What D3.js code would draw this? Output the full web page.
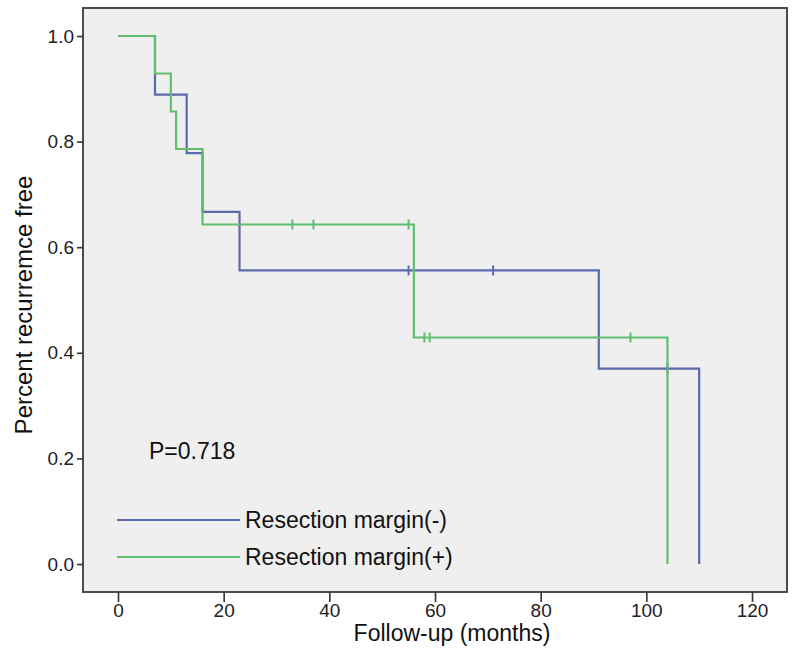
<!DOCTYPE html>
<html>
<head>
<meta charset="utf-8">
<script src="https://cdn.jsdelivr.net/npm/d3@7"></script>
<style>
  html, body { margin: 0; padding: 0; background: #ffffff; }
  svg { display: block; font-family: "Liberation Sans", Arial, sans-serif; }
</style>
</head>
<body>
<svg id="chart" width="800" height="659"></svg>
<script>
// ---- Data ----
const groupNames = ["Resection margin(-)", "Resection margin(+)"];
const negTimes   = [0, 7, 13, 16, 23, 91, 110];
const negSurv    = [1.0, 0.889, 0.778, 0.667, 0.556, 0.370, 0.0];
const negCensor  = [55, 71, 104];
const posTimes   = [0, 7, 10, 11, 16, 56, 104];
const posSurv    = [1.0, 0.929, 0.857, 0.786, 0.643, 0.429, 0.0];
const posCensor  = [33, 37, 55, 58, 59, 97];
const xTicks     = [0, 20, 40, 60, 80, 100, 120];
const yTicks     = [0.0, 0.2, 0.4, 0.6, 0.8, 1.0];
const pText      = "P=0.718";
const xTitle     = "Follow-up (months)";
const yTitle     = "Percent recurremce free";

const colors = ["#5a6aaa", "#5fbf6e"];

const svg = d3.select("#chart");
const box = { left: 83, top: 8, right: 787, bottom: 592 };

const x = d3.scaleLinear().domain([0, 120]).range([118, 752]);
const y = d3.scaleLinear().domain([0, 1]).range([564, 36]);

// plot background
svg.append("rect")
  .attr("x", box.left).attr("y", box.top)
  .attr("width", box.right - box.left).attr("height", box.bottom - box.top)
  .attr("fill", "#efefef").attr("stroke", "none");

// axes
const yAxis = d3.axisLeft(y).tickValues(yTicks).tickFormat(d3.format(".1f"))
  .tickSize(6).tickPadding(3);
const gy = svg.append("g").attr("transform", `translate(${box.left},0)`).call(yAxis);
gy.select(".domain").remove();
gy.selectAll("line").attr("stroke", "#333").attr("stroke-width", 1.6);
gy.selectAll("text").attr("font-size", 19).attr("fill", "#222");

const xAxis = d3.axisBottom(x).tickValues(xTicks).tickFormat(d3.format("d"))
  .tickSize(10).tickPadding(2);
const gx = svg.append("g").attr("transform", `translate(0,${box.bottom})`).call(xAxis);
gx.select(".domain").remove();
gx.selectAll("line").attr("stroke", "#333").attr("stroke-width", 1.6);
gx.selectAll("text").attr("font-size", 19).attr("fill", "#222");

// border
svg.append("rect")
  .attr("x", box.left).attr("y", box.top)
  .attr("width", box.right - box.left).attr("height", box.bottom - box.top)
  .attr("fill", "none").attr("stroke", "#3a3a3a").attr("stroke-width", 1.8);

// curves
const groups = [
  { times: negTimes, surv: negSurv, censor: negCensor, color: colors[0] },
  { times: posTimes, surv: posSurv, censor: posCensor, color: colors[1] }
];
const line = d3.line().x(d => x(d[0])).y(d => y(d[1])).curve(d3.curveStepAfter);

function survAt(g, t) {
  let s = g.surv[0];
  for (let i = 0; i < g.times.length; i++) if (g.times[i] <= t) s = g.surv[i];
  return s;
}

groups.forEach(g => {
  const pts = g.times.map((t, i) => [t, g.surv[i]]);
  svg.append("path").datum(pts)
    .attr("d", line).attr("fill", "none")
    .attr("stroke", g.color).attr("stroke-width", 2.2);
  svg.selectAll(null).data(g.censor).enter().append("line")
    .attr("x1", d => x(d)).attr("x2", d => x(d))
    .attr("y1", d => y(survAt(g, d)) - 5).attr("y2", d => y(survAt(g, d)) + 5)
    .attr("stroke", g.color).attr("stroke-width", 2);
});

// P value
svg.append("text").attr("x", 149).attr("y", 459)
  .attr("font-size", 23).attr("fill", "#111").text(pText);

// legend
groupNames.forEach((name, i) => {
  const ly = 520 + i * 37;
  svg.append("line").attr("x1", 117).attr("x2", 240).attr("y1", ly).attr("y2", ly)
    .attr("stroke", colors[i]).attr("stroke-width", 2);
  svg.append("text").attr("x", 245).attr("y", ly + 8)
    .attr("font-size", 23).attr("fill", "#111").text(name);
});

// axis titles
svg.append("text").attr("x", 452).attr("y", 641).attr("text-anchor", "middle")
  .attr("font-size", 23).attr("fill", "#111").text(xTitle);
svg.append("text").attr("transform", "translate(32,305) rotate(-90)")
  .attr("text-anchor", "middle").attr("font-size", 24).attr("fill", "#111").text(yTitle);
</script>
</body>
</html>
